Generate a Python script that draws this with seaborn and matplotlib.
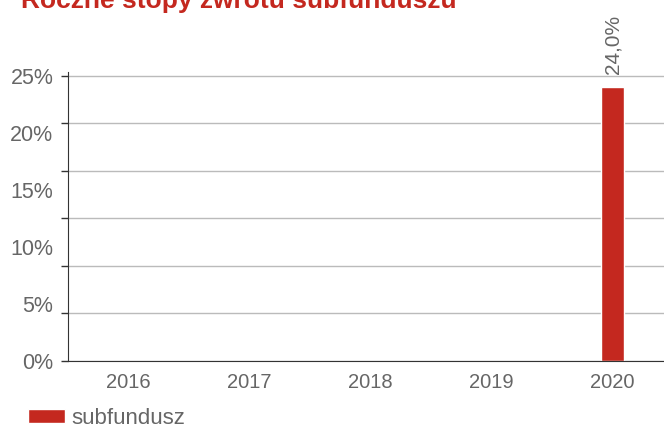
import numpy as np
import pandas as pd
import matplotlib
matplotlib.use("Agg")
import matplotlib.pyplot as plt
import seaborn as sns
from matplotlib.ticker import FixedLocator, FuncFormatter

# dane
lata = ["2016", "2017", "2018", "2019", "2020"]
stopy = [np.nan, np.nan, np.nan, np.nan, 24.0]
seria = "subfundusz"

df = pd.DataFrame({"rok": lata, "stopa": stopy, "seria": seria})

sns.set_style("white")
plt.rcParams["font.family"] = ["Liberation Sans", "DejaVu Sans"]

czerwony = "#c4281f"
szary = "#666666"

fig = plt.figure(figsize=(6.64, 4.30), dpi=100)
ax = fig.add_axes([68 / 664, 1 - 361 / 430, 605 / 664, (361 - 72) / 430])

sns.barplot(data=df, x="rok", y="stopa", hue="seria", order=lata,
            palette=[czerwony], width=0.19, dodge=False, ax=ax, saturation=1)

ax.set_xlim(-0.5, 4.5)
ax.set_ylim(0, 25.35)

# osie
ax.yaxis.set_major_locator(FixedLocator([0, 5, 10, 15, 20, 25]))
ax.yaxis.set_major_formatter(FuncFormatter(lambda v, p: f"{v:.0f}%"))
ax.yaxis.set_minor_locator(FixedLocator(np.linspace(0, 25, 7)))
ax.yaxis.remove_overlapping_locs = False
ax.tick_params(axis="y", which="major", left=False, length=0, labelsize=15.5, labelcolor=szary, pad=10.5)
ax.tick_params(axis="y", which="minor", left=True, length=5, width=1, color="#333333", direction="out")
ax.tick_params(axis="x", length=0, labelsize=14.5, labelcolor=szary, pad=9)
ax.grid(axis="y", which="minor", color="#bbbbbb", lw=1)
ax.grid(axis="y", which="major", visible=False)
ax.set_axisbelow(True)

for s in ["top", "right"]:
    ax.spines[s].set_visible(False)
ax.spines["left"].set_color("#333333")
ax.spines["bottom"].set_color("#333333")
ax.set_xlabel("")
ax.set_ylabel("")

# etykiety wartości
for c in ax.containers:
    etykiety = ["" if np.isnan(v) else f"{v:.1f}%".replace(".", ",") for v in c.datavalues]
    ax.bar_label(c, labels=etykiety, rotation=90, padding=10, fontsize=15, color=szary)

# legenda
sns.move_legend(ax, "lower left", bbox_to_anchor=(15 / 664, -12 / 430), bbox_transform=fig.transFigure,
                frameon=False, title=None, fontsize=16, handlelength=1.65, handleheight=0.55,
                handletextpad=0.3, labelcolor=szary, borderaxespad=0.2)

fig.text(21 / 664, 1 - 8 / 430, "Roczne stopy zwrotu subfunduszu", color=czerwony,
         fontsize=19, fontweight="bold", va="baseline", ha="left")

fig.savefig("out.png", dpi=100)
